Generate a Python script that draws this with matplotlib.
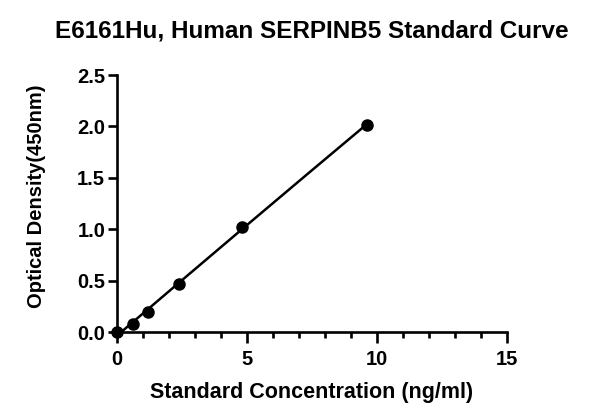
import numpy as np
import matplotlib.pyplot as plt

# Standard curve data
conc = [0, 0.6, 1.2, 2.4, 4.8, 9.6]
od = [0.0, 0.085, 0.2, 0.47, 1.025, 2.015]

plt.rcParams['font.family'] = ['Liberation Sans', 'DejaVu Sans']
plt.rcParams['font.weight'] = 'bold'

fig = plt.figure(figsize=(6, 4.19), dpi=100)
ax = fig.add_axes([0.195, 0.207, 0.65, 0.614])

# smooth fitted curve through the standards
coef = np.polyfit(conc, od, 2)
xs = np.linspace(0.15, max(conc), 200)
ax.plot(xs, np.polyval(coef, xs), color='black', lw=1.8, zorder=2)
ax.plot(conc, od, 'o', color='black', ms=8, zorder=3, clip_on=False)

ax.set_xlim(0, 15)
ax.set_ylim(0, 2.5)
ax.set_xticks([0, 5, 10, 15])
ax.set_xticks(np.arange(0, 16, 1), minor=True)
ax.set_yticks([0, 0.5, 1.0, 1.5, 2.0, 2.5])
ax.set_yticklabels(['0.0', '0.5', '1.0', '1.5', '2.0', '2.5'])

for s in ['top', 'right']:
    ax.spines[s].set_visible(False)
for s in ['left', 'bottom']:
    ax.spines[s].set_linewidth(1.9)
ax.tick_params(axis='x', which='major', width=1.9, length=8, labelsize=14.5, pad=5)
ax.tick_params(axis='y', which='major', width=1.9, length=6.5, labelsize=14.5, pad=2)
ax.tick_params(which='minor', width=1.9, length=4.5)
for lab in ax.get_xticklabels() + ax.get_yticklabels():
    lab.set_fontweight('bold')

ax.set_xlabel('Standard Concentration (ng/ml)', fontsize=15.5, fontweight='bold', labelpad=9)
ax.set_ylabel('Optical Density(450nm)', fontsize=14.5, fontweight='bold')
ax.yaxis.set_label_coords(-0.182, 0.53)
fig.text(0.52, 0.925, 'E6161Hu, Human SERPINB5 Standard Curve', fontsize=17.5,
         fontweight='bold', ha='center', va='center')

fig.savefig('out.png', dpi=100)
